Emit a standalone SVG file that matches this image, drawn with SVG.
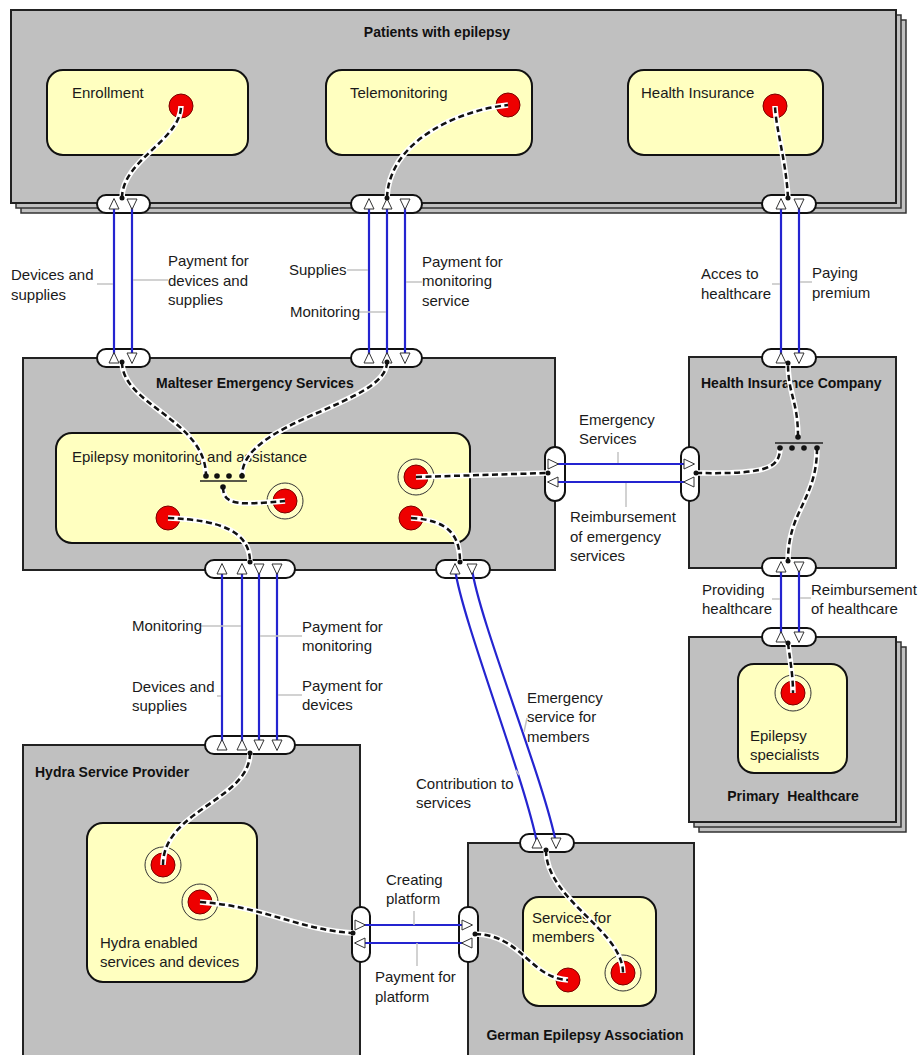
<svg xmlns="http://www.w3.org/2000/svg" xmlns:xlink="http://www.w3.org/1999/xlink" width="923" height="1055" viewBox="0 0 923 1055">
<style>
.grp{fill:#c0c0c0;stroke:#222;stroke-width:2}
.stk{fill:#c0c0c0;stroke:#333;stroke-width:1.5}
.box{fill:#ffffc0;stroke:#111;stroke-width:2}
.port{fill:#fff;stroke:#111;stroke-width:2}
.tri{fill:#fff;stroke:#333;stroke-width:1}
.flow{stroke:#2424d0;stroke-width:2.2;fill:none}
.cw{stroke:#fff;stroke-width:5.5;fill:none}
.cd{stroke:#111;stroke-width:2.5;stroke-dasharray:6 3.5;fill:none}
.lead{stroke:#c4c4c4;stroke-width:1.5;fill:none}
.t{font-family:"Liberation Sans",Arial,sans-serif;font-size:15px;fill:#1a1a1a}
.b{font-family:"Liberation Sans",Arial,sans-serif;font-size:14px;font-weight:bold;fill:#111}
.red{fill:#ee0000;stroke:#7a0000;stroke-width:1}
.ring{fill:#ffffc8;stroke:#333;stroke-width:1}
.dot{fill:#111}
</style>
<defs>
<path id="tu" class="tri" d="M0,-5.5 L5,5 L-5,5 Z"/>
<path id="td" class="tri" d="M0,5.5 L5,-5 L-5,-5 Z"/>
<path id="tr" class="tri" d="M5.5,0 L-5,5 L-5,-5 Z"/>
<path id="tl" class="tri" d="M-5.5,0 L5,5 L5,-5 Z"/>
</defs>
<rect x="0" y="0" width="923" height="1055" fill="#fff"/>

<g id="patients">
<rect class="stk" x="21" y="20" width="885" height="193"/>
<rect class="stk" x="16" y="15" width="885" height="193"/>
<rect class="grp" x="11" y="10" width="885" height="193"/>
<text class="b" x="437" y="37" text-anchor="middle">Patients with epilepsy</text>
<g id="enrollment">
<rect class="box" x="47" y="70" width="201" height="85" rx="16"/>
<text class="t" x="72" y="98">Enrollment</text>
<circle class="red" cx="181" cy="106" r="12"/>
</g>
<g id="telemonitoring">
<rect class="box" x="326" y="70" width="206" height="85" rx="16"/>
<text class="t" x="350" y="98">Telemonitoring</text>
<circle class="red" cx="508" cy="105" r="12"/>
</g>
<g id="health-insurance">
<rect class="box" x="628" y="70" width="195" height="85" rx="16"/>
<text class="t" x="641" y="98">Health Insurance</text>
<circle class="red" cx="775" cy="106" r="12"/>
</g>
<rect class="port" x="97" y="195" width="53" height="18" rx="9"/>
<rect class="port" x="351" y="195" width="71" height="18" rx="9"/>
<rect class="port" x="762" y="195" width="54" height="18" rx="9"/>
</g>

<g id="malteser">
<rect class="grp" x="23" y="358" width="532" height="212"/>
<text class="b" x="156" y="388">Malteser Emergency Services</text>
<g id="epilepsy-monitoring">
<rect class="box" x="56" y="433" width="414" height="110" rx="16"/>
<text class="t" x="72" y="462">Epilepsy monitoring and assistance</text>
<line x1="200" y1="481" x2="247" y2="481" stroke="#222" stroke-width="1.5"/>
<circle class="ring" cx="285" cy="501" r="18"/>
<circle class="red" cx="285" cy="501" r="12"/>
<circle class="red" cx="168" cy="518" r="12"/>
<circle class="ring" cx="416" cy="477" r="18"/>
<circle class="red" cx="416" cy="477" r="12"/>
<circle class="red" cx="411" cy="518" r="12"/>
</g>
<rect class="port" x="97" y="349" width="53" height="18" rx="9"/>
<rect class="port" x="351" y="349" width="71" height="18" rx="9"/>
<rect class="port" x="545" y="447" width="20" height="54" rx="10"/>
<rect class="port" x="205" y="560" width="90" height="18" rx="9"/>
<rect class="port" x="436" y="560" width="54" height="18" rx="9"/>
</g>

<g id="health-insurance-company">
<rect class="grp" x="689" y="357" width="207" height="211"/>
<text class="b" x="701" y="388">Health Insurance Company</text>
<line x1="775" y1="443" x2="823" y2="443" stroke="#222" stroke-width="1.5"/>
<rect class="port" x="762" y="349" width="54" height="18" rx="9"/>
<rect class="port" x="681" y="447" width="18" height="54" rx="9"/>
<rect class="port" x="762" y="558" width="54" height="18" rx="9"/>
</g>

<g id="primary-healthcare">
<rect class="stk" x="699" y="647" width="207" height="185"/>
<rect class="stk" x="694" y="642" width="207" height="185"/>
<rect class="grp" x="689" y="637" width="207" height="185"/>
<text class="b" x="793" y="801" text-anchor="middle" xml:space="preserve">Primary  Healthcare</text>
<g id="epilepsy-specialists">
<rect class="box" x="738" y="664" width="109" height="109" rx="16"/>
<circle class="ring" cx="793" cy="693" r="18"/>
<circle class="red" cx="793" cy="693" r="12"/>
<text class="t" x="750" y="741">Epilepsy</text>
<text class="t" x="750" y="760">specialists</text>
</g>
<rect class="port" x="762" y="628" width="54" height="18" rx="9"/>
</g>

<g id="hydra">
<rect class="grp" x="23" y="745" width="337" height="320"/>
<text class="b" x="35" y="777">Hydra Service Provider</text>
<g id="hydra-services">
<rect class="box" x="87" y="823" width="170" height="159" rx="16"/>
<circle class="ring" cx="163" cy="865" r="18"/>
<circle class="red" cx="163" cy="865" r="12"/>
<circle class="ring" cx="200" cy="902" r="18"/>
<circle class="red" cx="200" cy="902" r="12"/>
<text class="t" x="100" y="948">Hydra enabled</text>
<text class="t" x="100" y="967">services and devices</text>
</g>
<rect class="port" x="205" y="736" width="90" height="18" rx="9"/>
<rect class="port" x="352" y="907" width="18" height="55" rx="9"/>
</g>

<g id="german-epilepsy-association">
<rect class="grp" x="468" y="843" width="226" height="220"/>
<text class="b" x="585" y="1040" text-anchor="middle">German Epilepsy Association</text>
<g id="services-for-members">
<rect class="box" x="523" y="897" width="133" height="109" rx="16"/>
<text class="t" x="532" y="923">Services for</text>
<text class="t" x="532" y="942">members</text>
<circle class="red" cx="568" cy="980" r="12"/>
<circle class="ring" cx="623" cy="973" r="18"/>
<circle class="red" cx="623" cy="973" r="12"/>
</g>
<rect class="port" x="520" y="834" width="54" height="18" rx="9"/>
<rect class="port" x="459" y="907" width="19" height="55" rx="9"/>
</g>

<g id="connectors">
<path class="flow" d="M114,358 V204"/>
<path class="flow" d="M132,204 V358"/>
<path class="flow" d="M369,358 V204"/>
<path class="flow" d="M387,358 V204"/>
<path class="flow" d="M405,204 V358"/>
<path class="flow" d="M781,358 V204"/>
<path class="flow" d="M799,204 V358"/>
<path class="flow" d="M781,637 V567"/>
<path class="flow" d="M799,567 V637"/>
<path class="flow" d="M222,745 V569"/>
<path class="flow" d="M242,745 V569"/>
<path class="flow" d="M259,569 V745"/>
<path class="flow" d="M277,569 V745"/>
<path class="flow" d="M553,464 H689"/>
<path class="flow" d="M689,482 H553"/>
<path class="flow" d="M537,843 C525,780 462,620 455,569"/>
<path class="flow" d="M472,569 C479,620 544,780 556,843"/>
<path class="flow" d="M360,925 H467"/>
<path class="flow" d="M467,943 H360"/>
<use xlink:href="#tu" x="114" y="204"/><use xlink:href="#tu" x="114" y="358"/>
<use xlink:href="#td" x="132" y="204"/><use xlink:href="#td" x="132" y="358"/>
<use xlink:href="#tu" x="369" y="204"/><use xlink:href="#tu" x="369" y="358"/>
<use xlink:href="#tu" x="387" y="204"/><use xlink:href="#tu" x="387" y="358"/>
<use xlink:href="#td" x="405" y="204"/><use xlink:href="#td" x="405" y="358"/>
<use xlink:href="#tu" x="781" y="204"/><use xlink:href="#tu" x="781" y="358"/>
<use xlink:href="#td" x="799" y="204"/><use xlink:href="#td" x="799" y="358"/>
<use xlink:href="#tu" x="781" y="567"/><use xlink:href="#tu" x="781" y="637"/>
<use xlink:href="#td" x="799" y="567"/><use xlink:href="#td" x="799" y="637"/>
<use xlink:href="#tu" x="222" y="569"/><use xlink:href="#tu" x="222" y="745"/>
<use xlink:href="#tu" x="242" y="569"/><use xlink:href="#tu" x="242" y="745"/>
<use xlink:href="#td" x="259" y="569"/><use xlink:href="#td" x="259" y="745"/>
<use xlink:href="#td" x="277" y="569"/><use xlink:href="#td" x="277" y="745"/>
<use xlink:href="#tr" x="553" y="464"/><use xlink:href="#tr" x="689" y="464"/>
<use xlink:href="#tl" x="553" y="482"/><use xlink:href="#tl" x="689" y="482"/>
<use xlink:href="#tu" x="455" y="569"/><use xlink:href="#tu" x="537" y="843"/>
<use xlink:href="#td" x="472" y="569"/><use xlink:href="#td" x="556" y="843"/>
<use xlink:href="#tr" x="360" y="925"/><use xlink:href="#tr" x="467" y="925"/>
<use xlink:href="#tl" x="360" y="943"/><use xlink:href="#tl" x="467" y="943"/>
<path class="lead" d="M97,284 H113 M133,280 H168 M347,270 H368 M358,312 H386 M406,282 H422 M772,284 H780 M800,282 H812 M618,452 V463 M626,483 V507 M772,599 H780 M800,598 H811 M200,626 H241 M217,696 H221 M260,636 H302 M278,695 H302 M527,718 L524,732 M516,770 L519,775 M414,911 V925 M417,943 V966"/>
<g id="assoc">
<path class="cw" d="M122,198 C122,160 181,140 181,106"/>
<path class="cw" d="M387,198 C389,140 460,110 508,105"/>
<path class="cw" d="M788,198 C786,160 776,130 775,106"/>
<path class="cw" d="M122,362 C122,405 206,420 206,476"/>
<path class="cw" d="M387,362 C387,405 242,420 242,476"/>
<path class="cw" d="M223,487 C223,506 240,505 285,501"/>
<path class="cw" d="M168,518 C222,520 250,532 250,562"/>
<path class="cw" d="M411,518 C450,520 460,537 460,562"/>
<path class="cw" d="M416,477 L548,473"/>
<path class="cw" d="M696,473 C762,474 780,470 780,448"/>
<path class="cw" d="M798,437 C798,400 788,395 788,363"/>
<path class="cw" d="M817,448 C817,500 788,510 788,561"/>
<path class="cw" d="M788,643 C790,660 793,675 793,693"/>
<path class="cw" d="M250,753 C250,800 163,810 163,865"/>
<path class="cw" d="M200,902 C262,906 300,930 353,933"/>
<path class="cw" d="M475,934 C522,935 530,978 568,980"/>
<path class="cw" d="M546,850 C546,900 623,930 623,973"/>
<path class="cd" d="M122,198 C122,160 181,140 181,106"/>
<path class="cd" d="M387,198 C389,140 460,110 508,105"/>
<path class="cd" d="M788,198 C786,160 776,130 775,106"/>
<path class="cd" d="M122,362 C122,405 206,420 206,476"/>
<path class="cd" d="M387,362 C387,405 242,420 242,476"/>
<path class="cd" d="M223,487 C223,506 240,505 285,501"/>
<path class="cd" d="M168,518 C222,520 250,532 250,562"/>
<path class="cd" d="M411,518 C450,520 460,537 460,562"/>
<path class="cd" d="M416,477 L548,473"/>
<path class="cd" d="M696,473 C762,474 780,470 780,448"/>
<path class="cd" d="M798,437 C798,400 788,395 788,363"/>
<path class="cd" d="M817,448 C817,500 788,510 788,561"/>
<path class="cd" d="M788,643 C790,660 793,675 793,693"/>
<path class="cd" d="M250,753 C250,800 163,810 163,865"/>
<path class="cd" d="M200,902 C262,906 300,930 353,933"/>
<path class="cd" d="M475,934 C522,935 530,978 568,980"/>
<path class="cd" d="M546,850 C546,900 623,930 623,973"/>
</g>
<g class="dot">
<circle cx="122" cy="198" r="2.5"/><circle cx="387" cy="198" r="2.5"/><circle cx="788" cy="198" r="2.5"/>
<circle cx="122" cy="362" r="2.5"/><circle cx="387" cy="362" r="2.5"/><circle cx="788" cy="363" r="2.5"/>
<circle cx="548" cy="473" r="2.5"/><circle cx="696" cy="473" r="2.5"/>
<circle cx="250" cy="562" r="2.5"/><circle cx="460" cy="562" r="2.5"/><circle cx="788" cy="561" r="2.5"/>
<circle cx="788" cy="643" r="2.5"/><circle cx="250" cy="753" r="2.5"/>
<circle cx="353" cy="933" r="2.5"/><circle cx="475" cy="934" r="2.5"/><circle cx="546" cy="850" r="2.5"/>
<circle cx="206" cy="476" r="2.8"/><circle cx="217" cy="476" r="2.8"/><circle cx="229" cy="476" r="2.8"/><circle cx="242" cy="476" r="2.8"/><circle cx="223" cy="487" r="2.8"/>
<circle cx="798" cy="437" r="2.8"/><circle cx="780" cy="448" r="2.8"/><circle cx="792" cy="448" r="2.8"/><circle cx="804" cy="448" r="2.8"/><circle cx="817" cy="448" r="2.8"/>
</g>
<g class="t">
<text x="11" y="280">Devices and</text><text x="11" y="300">supplies</text>
<text x="168" y="266">Payment for</text><text x="168" y="286">devices and</text><text x="168" y="305">supplies</text>
<text x="289" y="275">Supplies</text>
<text x="290" y="317">Monitoring</text>
<text x="422" y="267">Payment for</text><text x="422" y="286">monitoring</text><text x="422" y="306">service</text>
<text x="701" y="279">Acces to</text><text x="701" y="299">healthcare</text>
<text x="812" y="278">Paying</text><text x="812" y="298">premium</text>
<text x="579" y="425">Emergency</text><text x="579" y="444">Services</text>
<text x="570" y="522">Reimbursement</text><text x="570" y="542">of emergency</text><text x="570" y="561">services</text>
<text x="702" y="595">Providing</text><text x="702" y="614">healthcare</text>
<text x="811" y="595">Reimbursement</text><text x="811" y="614">of healthcare</text>
<text x="132" y="631">Monitoring</text>
<text x="132" y="692">Devices and</text><text x="132" y="711">supplies</text>
<text x="302" y="632">Payment for</text><text x="302" y="651">monitoring</text>
<text x="302" y="691">Payment for</text><text x="302" y="710">devices</text>
<text x="527" y="703">Emergency</text><text x="527" y="722">service for</text><text x="527" y="742">members</text>
<text x="416" y="789">Contribution to</text><text x="416" y="808">services</text>
<text x="386" y="885">Creating</text><text x="386" y="904">platform</text>
<text x="375" y="982">Payment for</text><text x="375" y="1002">platform</text>
</g>
</g>
</svg>
